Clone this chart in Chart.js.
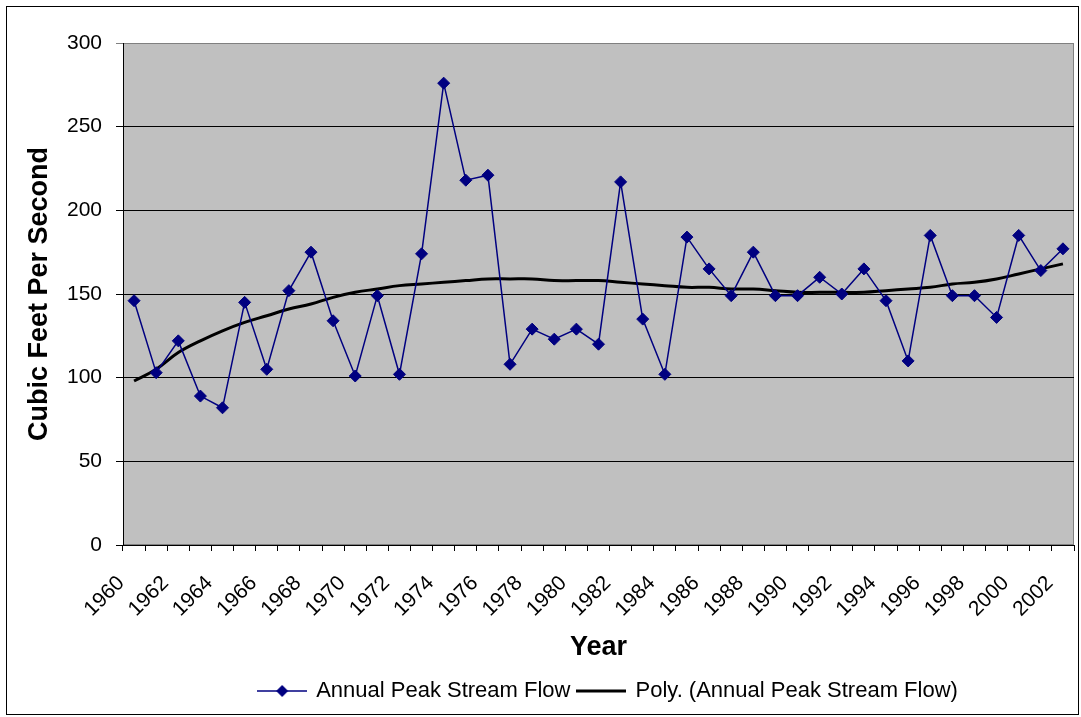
<!DOCTYPE html>
<html>
<head>
<meta charset="utf-8">
<script src="https://cdn.jsdelivr.net/npm/chart.js@4"></script>
<style>
  html, body { margin: 0; padding: 0; background: #fff; }
</style>
</head>
<body>
<canvas id="flowChart" width="1081" height="717"></canvas>
<script>
// 연도별 데이터
const years = ['1960','1961','1962','1963','1964','1965','1966','1967','1968','1969',
               '1970','1971','1972','1973','1974','1975','1976','1977','1978','1979',
               '1980','1981','1982','1983','1984','1985','1986','1987','1988','1989',
               '1990','1991','1992','1993','1994','1995','1996','1997','1998','1999',
               '2000','2001','2002'];
const peakFlow = [146, 103, 122, 89, 82, 145, 105, 152, 175, 134,
                  101, 149, 102, 174, 276, 218, 221, 108, 129, 123,
                  129, 120, 217, 135, 102, 184, 165, 149, 175, 149,
                  149, 160, 150, 165, 146, 110, 185, 149, 149, 136,
                  185, 164, 177];
const polyTrend = [98, 105, 115, 122, 128, 133, 137, 141, 144, 148,
                   151, 153, 155, 156, 157, 158, 159, 159, 159, 158,
                   158, 158, 157, 156, 155, 154, 154, 153, 153, 152,
                   151, 151, 151, 151, 152, 153, 154, 156, 157, 159,
                   162, 165, 168];
const seriesNames = ['Annual Peak Stream Flow', 'Poly. (Annual Peak Stream Flow)'];
const yTicks = [0, 50, 100, 150, 200, 250, 300];

const FONT = "'Liberation Sans', Arial, sans-serif";

// 범례 아이콘 (선 + 마커)
function legendSymbol(color, width, diamond) {
    const c = document.createElement('canvas');
    c.width = 50;
    c.height = 14;
    const g = c.getContext('2d');
    g.strokeStyle = color;
    g.lineWidth = width;
    g.beginPath();
    g.moveTo(0, 7);
    g.lineTo(50, 7);
    g.stroke();
    if (diamond) {
        g.fillStyle = color;
        g.beginPath();
        g.moveTo(19, 7);
        g.lineTo(25, 1);
        g.lineTo(31, 7);
        g.lineTo(25, 13);
        g.closePath();
        g.fill();
    }
    return c;
}
const legendIcons = [legendSymbol('#000080', 1.5, true), legendSymbol('#000000', 3, false)];

// 배경, 테두리, 범례 위치
const framePlugin = {
    id: 'frame',
    afterLayout(chart) {
        const lg = chart.legend;
        lg.left += 70;
        lg.right += 70;
        lg.top -= 5;
        lg.bottom -= 5;
    },
    beforeDraw(chart) {
        const { ctx, chartArea: a } = chart;
        ctx.save();
        ctx.fillStyle = '#fff';
        ctx.fillRect(0, 0, chart.width, chart.height);
        ctx.strokeStyle = '#000';
        ctx.lineWidth = 1;
        ctx.strokeRect(6.5, 6.5, chart.width - 9, chart.height - 9);
        ctx.fillStyle = '#c0c0c0';
        ctx.fillRect(a.left, a.top, a.right - a.left, a.bottom - a.top);
        ctx.strokeStyle = '#808080';
        ctx.strokeRect(a.left + 0.5, a.top + 0.5, a.right - a.left - 1, a.bottom - a.top - 1);
        ctx.restore();
    }
};

const ctx = document.getElementById('flowChart').getContext('2d');
const chart = new Chart(ctx, {
    type: 'line',
    data: {
        labels: years,
        datasets: [{
            label: seriesNames[0],
            data: peakFlow,
            borderColor: '#000080',
            backgroundColor: '#000080',
            borderWidth: 1.5,
            pointStyle: 'rectRot',
            pointRadius: 6,
            pointBorderWidth: 1,
            tension: 0
        }, {
            label: seriesNames[1],
            data: polyTrend,
            borderColor: '#000000',
            backgroundColor: '#000000',
            borderWidth: 3,
            pointRadius: 0,
            tension: 0.4
        }]
    },
    options: {
        responsive: false,
        animation: false,
        layout: { padding: { top: 43, right: 4, left: 0, bottom: 0 } },
        plugins: {
            tooltip: { enabled: false },
            legend: {
                position: 'bottom',
                labels: {
                    color: '#000',
                    font: { family: FONT, size: 22 },
                    usePointStyle: true,
                    pointStyleWidth: 46,
                    padding: 8,
                    generateLabels(c) {
                        const items = Chart.defaults.plugins.legend.labels.generateLabels(c);
                        items.forEach((it, i) => { it.pointStyle = legendIcons[i]; });
                        return items;
                    }
                }
            }
        },
        scales: {
            x: {
                offset: true,
                afterFit(scale) {
                    scale.height = 132;
                    scale.paddingLeft = 0;
                    scale.paddingRight = 0;
                },
                grid: {
                    offset: true,
                    drawOnChartArea: false,
                    drawTicks: true,
                    tickLength: 6,
                    color: '#000'
                },
                border: { color: '#000', width: 1 },
                ticks: {
                    autoSkip: false,
                    minRotation: 45,
                    maxRotation: 45,
                    padding: 20,
                    labelOffset: -13,
                    color: '#000',
                    font: { family: FONT, size: 21 },
                    callback: (v, i) => (i % 2 === 0 ? years[i] : '')
                },
                title: {
                    display: true,
                    text: 'Year',
                    color: '#000',
                    font: { family: FONT, size: 27, weight: 'bold' },
                    padding: { top: 0, bottom: 13 }
                }
            },
            y: {
                min: 0,
                max: 300,
                afterFit(scale) { scale.width = 123; },
                afterBuildTicks(scale) { scale.ticks = yTicks.map(v => ({ value: v })); },
                grid: {
                    color: c => (c.tick && c.tick.value === 300 ? '#808080' : '#000'),
                    tickLength: 7
                },
                border: { color: '#000', width: 1 },
                ticks: {
                    padding: 14,
                    color: '#000',
                    font: { family: FONT, size: 21 }
                },
                title: {
                    display: true,
                    text: 'Cubic Feet Per Second',
                    color: '#000',
                    font: { family: FONT, size: 27, weight: 'bold' },
                    padding: { top: 23, bottom: 0 }
                }
            }
        }
    },
    plugins: [framePlugin]
});
</script>
</body>
</html>
